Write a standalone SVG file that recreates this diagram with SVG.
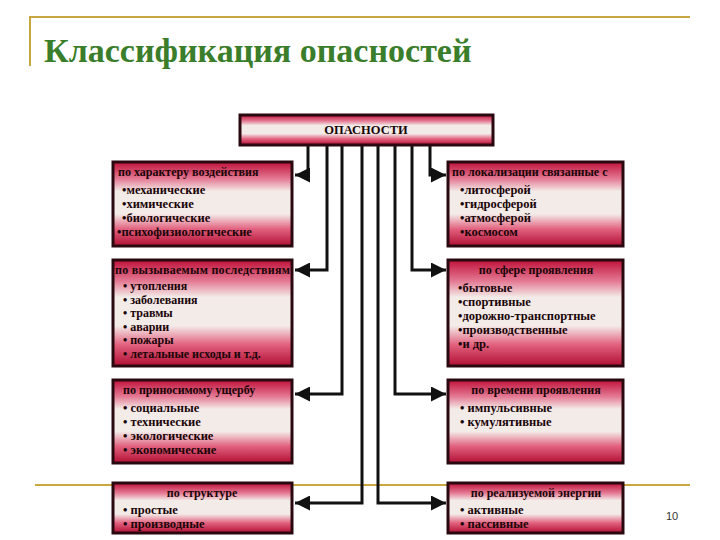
<svg xmlns="http://www.w3.org/2000/svg" width="720" height="540" viewBox="0 0 720 540">
<defs>
<linearGradient id="g" x1="0" y1="0" x2="0" y2="1">
<stop offset="0" stop-color="#c0113a"/>
<stop offset="0.2" stop-color="#e47a94"/>
<stop offset="0.35" stop-color="#f3ebe8"/>
<stop offset="0.62" stop-color="#f3ebe8"/>
<stop offset="0.8" stop-color="#e2607e"/>
<stop offset="1" stop-color="#b10f33"/>
</linearGradient>
<marker id="a" viewBox="0 0 10 10" refX="10" refY="5" markerWidth="5" markerHeight="5" orient="auto" markerUnits="strokeWidth">
<path d="M0,0 L10,5 L0,10 z" fill="#111"/>
</marker>
<style>
.b{fill:url(#g);stroke:#2a0810;stroke-width:3}
.t{font-family:"Liberation Serif",serif;font-weight:bold;font-size:12.5px;fill:#1a0508}
.s{font-size:12px}
.h{font-family:"Liberation Serif",serif;font-weight:bold;font-size:12px;fill:#1a0508}
.c{fill:none;stroke:#111;stroke-width:3}
.ttl{font-family:"Liberation Serif","DejaVu Serif",serif;font-weight:bold;font-size:34px;fill:#3a7d2a}
.pn{font-family:"Liberation Sans",sans-serif;font-size:11px;fill:#333}
</style>
</defs>
<rect width="720" height="540" fill="#fff"/>
<path d="M30,66 V17 H690" fill="none" stroke="#c8a640" stroke-width="2"/>
<line x1="35" y1="485" x2="690" y2="485" stroke="#c8a640" stroke-width="2"/>
<text class="ttl" x="44" y="62">Классификация опасностей</text>
<text class="pn" x="666" y="520">10</text>
<g id="connectors">
<path d="M308,145 V175 H295" marker-end="url(#a)" class="c"/>
<path d="M327,145 V270 H295" marker-end="url(#a)" class="c"/>
<path d="M342,145 V394 H295" marker-end="url(#a)" class="c"/>
<path d="M362,145 V503 H295" marker-end="url(#a)" class="c"/>
<path d="M378,145 V503 H446" marker-end="url(#a)" class="c"/>
<path d="M395,145 V394 H446" marker-end="url(#a)" class="c"/>
<path d="M412,145 V270 H446" marker-end="url(#a)" class="c"/>
<path d="M430,145 V175 H446" marker-end="url(#a)" class="c"/>
</g>
<g id="root"><rect class="b" x="240" y="115" width="253" height="30"/><text class="t" x="366" y="134" text-anchor="middle">ОПАСНОСТИ</text></g>
<g id="l1"><rect class="b" x="113" y="162" width="179" height="84"/>
<text class="h" x="118" y="176">по характеру воздействия</text>
<text class="t" x="122" y="194">•механические</text><text class="t" x="122" y="208">•химические</text><text class="t" x="122" y="222">•биологические</text><text class="t" x="117" y="236">•психофизиологические</text></g>
<g id="l2"><rect class="b" x="113" y="260" width="179" height="106"/>
<text class="h" x="115" y="274" textLength="175">по вызываемым последствиям</text>
<text class="t s" x="123" y="290">• утопления</text><text class="t s" x="123" y="303.5">• заболевания</text><text class="t s" x="123" y="317">• травмы</text><text class="t s" x="123" y="330.5">• аварии</text><text class="t s" x="123" y="344">• пожары</text><text class="t s" x="123" y="358">• летальные исходы и т.д.</text></g>
<g id="l3"><rect class="b" x="113" y="380" width="179" height="83"/>
<text class="h" x="123" y="394">по приносимому ущербу</text>
<text class="t" x="123" y="412">• социальные</text><text class="t" x="123" y="426">• технические</text><text class="t" x="123" y="440">• экологические</text><text class="t" x="123" y="454">• экономические</text></g>
<g id="l4"><rect class="b" x="113" y="483" width="179" height="50"/>
<text class="h" x="202" y="497" text-anchor="middle">по структуре</text>
<text class="t" x="123" y="514">• простые</text><text class="t" x="123" y="528">• производные</text></g>
<g id="r1"><rect class="b" x="448" y="162" width="175" height="84"/>
<text class="h" x="452" y="176">по локализации связанные с</text>
<text class="t" x="460" y="194">•литосферой</text><text class="t" x="460" y="208">•гидросферой</text><text class="t" x="460" y="222">•атмосферой</text><text class="t" x="460" y="236">•космосом</text></g>
<g id="r2"><rect class="b" x="448" y="260" width="175" height="106"/>
<text class="h" x="536" y="274" text-anchor="middle">по сфере проявления</text>
<text class="t" x="458" y="292">•бытовые</text><text class="t" x="458" y="306">•спортивные</text><text class="t" x="458" y="320">•дорожно-транспортные</text><text class="t" x="458" y="334">•производственные</text><text class="t" x="458" y="348">•и др.</text></g>
<g id="r3"><rect class="b" x="448" y="380" width="175" height="83"/>
<text class="h" x="536" y="394" text-anchor="middle">по времени проявления</text>
<text class="t" x="460" y="412">• импульсивные</text><text class="t" x="460" y="426">• кумулятивные</text></g>
<g id="r4"><rect class="b" x="448" y="483" width="175" height="50"/>
<text class="h" x="536" y="497" text-anchor="middle">по реализуемой энергии</text>
<text class="t" x="460" y="514">• активные</text><text class="t" x="460" y="528">• пассивные</text></g>
</svg>
